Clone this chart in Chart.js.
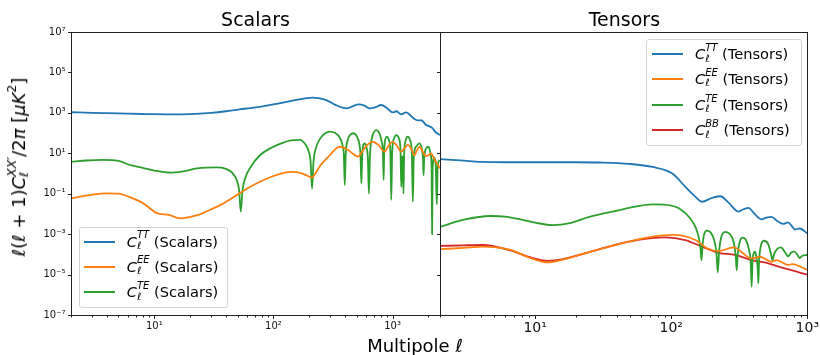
<!DOCTYPE html>
<html>
<head>
<meta charset="utf-8">
<script src="https://cdn.jsdelivr.net/npm/chart.js@4.4.0/dist/chart.umd.min.js"></script>
<style>
  body { margin: 0; background: #fff; font-family: 'DejaVu Sans', sans-serif; color: #000; }
  #wrap { position: relative; width: 820px; height: 355px; overflow: hidden; }
  canvas { position: absolute; left: 0; top: 0; }
  .txt { position: absolute; white-space: nowrap; line-height: 1; }
  .title { font-size: 19px; transform: translateX(-50%); top: 10px; }
  i { font-style: italic; }
  .ss { display: inline-block; position: relative; font-size: 10px; line-height: 10px; }
  .ss .sp { position: relative; top: -8.3px; font-style: italic; }
  .ss .sb { position: absolute; left: 0; top: 2.3px; font-style: italic; }
  .legend { position: absolute; background: rgba(255,255,255,0.8); border: 1px solid #d4d4d4;
            border-radius: 3px; box-sizing: border-box; }
  .row { position: absolute; height: 20px; line-height: 20px; font-size: 14.6px; white-space: nowrap; }
  .sw { position: absolute; height: 2px; }
  #ylab { font-size: 18px; left: 19px; top: 167px; transform: translate(-50%, -50%) rotate(-90deg); }
  #ylab .ss { font-size: 12.5px; line-height: 12.5px; }
  #ylab .ss .sp { top: -9px; }
  #ylab .ss .sb { top: 3px; }
  #xlab { font-size: 18px; left: 415px; top: 336.5px; transform: translateX(-50%); }
</style>
</head>
<body>
<div id="wrap">
  <canvas id="scalars" width="820" height="355"></canvas>
  <canvas id="tensors" width="820" height="355"></canvas>

  <div class="txt title" style="left:255.5px">Scalars</div>
  <div class="txt title" style="left:624.4px">Tensors</div>
  <div class="txt" id="ylab"><i>ℓ</i>(<i>ℓ</i> + 1)<i>C</i><span class="ss"><span class="sp">XX′</span><span class="sb">ℓ</span></span>/2<i>π</i> [<i>μK</i><span class="ss"><span class="sp" style="font-style:normal">2</span></span>]</div>
  <div class="txt" id="xlab">Multipole <i>ℓ</i></div>

  <div class="legend" id="legS" style="left:79px; top:227px; width:149px; height:81px;"></div>
  <div class="legend" id="legT" style="left:646px; top:39px; width:156px; height:107px;"></div>
</div>

<script>
// ---- data (multipole l, l(l+1)C_l/2pi in uK^2) ----
const scalarEllTT = [2, 3, 4, 6, 8, 10, 13, 20, 30, 40, 52, 64, 77, 100, 130, 160, 190, 213, 240, 270, 300, 340, 380, 412, 460, 520, 580, 645, 720, 800, 900, 1000, 1080, 1180, 1300, 1450, 1550, 1650, 1740, 1900, 2050, 2150, 2300, 2500];
const scalarTT = [1070, 1000, 960, 910, 880, 860, 850, 870, 1000, 1200, 1500, 1700, 2000, 2600, 3500, 4500, 5300, 5700, 5400, 4500, 3400, 2300, 1800, 1650, 2100, 2600, 2300, 1650, 1900, 2450, 1700, 1050, 1200, 850, 1050, 650, 470, 420, 430, 260, 210, 180, 110, 80];

const scalarEllEE = [2, 3, 4, 5, 6.3, 8, 10.5, 13.2, 16.5, 20, 23.5, 30, 36, 52, 64, 77, 100, 120, 142, 170, 195, 209, 225, 245, 270, 297, 330, 360, 420, 470, 512, 560, 610, 684, 760, 857, 930, 1000, 1080, 1183, 1260, 1343, 1430, 1530, 1600, 1680, 1790, 1900, 2000, 2100, 2250, 2500];
const scalarEE = [0.059, 0.09, 0.105, 0.1, 0.066, 0.035, 0.011, 0.009, 0.006, 0.0072, 0.009, 0.017, 0.028, 0.105, 0.22, 0.39, 0.75, 1.05, 1.2, 1.05, 0.75, 0.62, 1.0, 2.3, 4.5, 8, 16, 21, 15, 9, 6.8, 13, 25, 37, 26, 12, 25, 37, 25, 12, 18, 26, 17, 8, 14, 21, 12, 7.2, 8, 10, 5, 1.8];

// |TE|: the sharp dips are the zero crossings
const scalarEllTE = [2, 2.7, 3.6, 5, 6.3, 8, 10, 13.6, 17, 23, 33, 40, 45, 49, 51.5, 53.2, 55, 58, 64, 77, 93, 115, 140, 167, 185, 198, 205, 211, 217, 225, 245, 270, 297, 330, 360, 380, 390, 397, 404, 420, 440, 467, 500, 525, 538, 547, 556, 568, 583, 600, 620, 633, 646, 670, 700, 730, 770, 805, 830, 841, 852, 870, 896, 930, 958, 975, 992, 1030, 1075, 1130, 1165, 1183, 1200, 1210, 1222, 1234, 1250, 1290, 1343, 1400, 1450, 1480, 1505, 1580, 1680, 1760, 1805, 1820, 1840, 1920, 2000, 2080, 2125, 2145, 2170, 2240, 2300, 2350, 2390, 2470];
const scalarTE = [3.8, 4.4, 4.7, 4.2, 2.6, 1.9, 1.4, 1.1, 1.25, 1.8, 2.0, 1.7, 1.1, 0.5, 0.15, 0.013, 0.15, 0.6, 2.0, 8, 17, 30, 43, 46, 28, 12, 4, 0.18, 4, 15, 50, 95, 118, 100, 60, 25, 8, 0.27, 8, 45, 80, 98, 70, 30, 8, 0.32, 8, 25, 31, 22, 6, 0.1, 8, 55, 115, 140, 105, 45, 10, 0.48, 15, 50, 66, 45, 12, 0.05, 12, 55, 79, 55, 15, 0.22, 6, 7, 3, 0.1, 8, 45, 66, 45, 12, 0.04, 6, 22, 31, 16, 4, 0.83, 5, 18, 21, 10, 2, 0.001, 2, 6, 3, 0.03, 2, 4.7];

const tensorEllTT = [2, 3, 4, 6, 10, 20, 30, 49, 73, 102, 127, 151, 168, 200, 230, 265, 312, 340, 369, 410, 461, 500, 546, 600, 665, 723, 770, 809, 881, 1000];
const tensorTT = [5.2, 4.3, 3.8, 3.6, 3.6, 3.6, 3.5, 3.0, 2.1, 1.0, 0.22, 0.07, 0.04, 0.062, 0.075, 0.035, 0.013, 0.017, 0.02, 0.01, 0.0054, 0.0066, 0.0072, 0.0045, 0.0032, 0.0038, 0.0025, 0.0017, 0.0019, 0.0011];

const tensorEllEE = [2, 3, 4.1, 6.5, 9, 12.4, 16, 25, 49, 73, 102, 151, 183, 223, 287, 390, 449, 546, 594, 724, 780, 1000];
const tensorEE = [1.8e-4, 2.1e-4, 2.4e-4, 1.7e-4, 7e-5, 4.0e-5, 5.5e-5, 1.3e-4, 4.3e-4, 7.5e-4, 9.1e-4, 5.1e-4, 2.0e-4, 1.45e-4, 2.2e-4, 6.3e-5, 7.6e-5, 4.3e-5, 5.2e-5, 3.0e-5, 3.3e-5, 1.7e-5];

const tensorEllTE = [2, 3, 4.7, 6, 8.2, 10, 13.5, 18, 25, 41.5, 49, 73, 100, 114, 138, 152, 160, 164, 167, 170, 174, 183, 195, 207, 215, 220, 225, 233, 249, 270, 288, 298, 303, 308, 318, 334, 355, 372, 384, 390, 396, 404, 412, 422, 432, 437, 442, 455, 480, 515, 540, 555, 570, 600, 640, 690, 723, 760, 800, 850, 880, 920, 1000];
const tensorTE = [0.0023, 0.0052, 0.0079, 0.0074, 0.005, 0.0037, 0.0028, 0.0035, 0.0072, 0.0155, 0.02, 0.0295, 0.026, 0.019, 0.006, 0.002, 0.0006, 0.0002, 0.00005, 0.0003, 0.0009, 0.0015, 0.0012, 0.0005, 0.00012, 0.000013, 0.00015, 0.0007, 0.0013, 0.001, 0.0004, 0.00008, 0.000016, 0.0001, 0.0004, 0.00068, 0.0005, 0.00018, 0.00004, 0.0000025, 0.00005, 0.00011, 0.000135, 0.00008, 0.00002, 0.0000037, 0.00004, 0.00025, 0.00047, 0.00033, 0.00011, 0.000052, 0.0001, 0.00018, 0.00022, 0.00012, 0.00008, 0.00012, 0.00014, 0.00009, 0.000066, 0.000085, 0.000093];

const tensorEllBB = [2, 3, 4.1, 6.5, 9, 12.4, 16, 25, 49, 91, 127, 168, 223, 295, 390, 516, 684, 1000];
const tensorBB = [2.6e-4, 2.8e-4, 2.9e-4, 1.6e-4, 7.5e-5, 4.8e-5, 5.8e-5, 1.3e-4, 4.3e-4, 6.9e-4, 5.1e-4, 2.4e-4, 1.2e-4, 9.3e-5, 5.2e-5, 3.6e-5, 2.0e-5, 1.0e-5];

const xTicks = [10, 100, 1000];
const yTicks = [1e-7, 1e-5, 1e-3, 1e-1, 1e1, 1e3, 1e5, 1e7];

const BLUE = '#1f77b4', ORANGE = '#ff7f0e', GREEN = '#2ca02c', RED = '#d62728';

Chart.defaults.font.family = "'DejaVu Sans', sans-serif";
Chart.defaults.color = '#111';

const SUP = { '-': '⁻', '0': '⁰', '1': '¹', '2': '²', '3': '³', '4': '⁴', '5': '⁵', '6': '⁶', '7': '⁷', '8': '⁸', '9': '⁹' };
function powLabel(v) {
  const e = Math.round(Math.log10(v));
  return '10' + String(e).split('').map(c => SUP[c]).join('');
}

function pts(ell, vals) {
  return ell.map((l, i) => ({ x: l, y: vals[i] }));
}

function line(label, ell, vals, color) {
  return {
    label, data: pts(ell, vals), borderColor: color, backgroundColor: color,
    borderWidth: 1.8, pointRadius: 0, fill: false, cubicInterpolationMode: 'monotone'
  };
}

// frame + matplotlib style tick marks (major 3.5px, minor 2px)
const framePlugin = {
  id: 'frame',
  afterDraw(chart) {
    const { ctx, chartArea: a, scales: { x } } = chart;
    const y = chart.scales.y;
    ctx.save();
    ctx.strokeStyle = '#222';
    ctx.lineWidth = 1;
    // both panels put the shared edge on the same pixel column
    const L = Math.round(a.left) + 0.5, R = Math.round(a.right) + 0.5;
    const T = Math.round(a.top) + 0.5, B = Math.round(a.bottom) + 0.5;
    ctx.strokeRect(L, T, R - L, B - T);
    ctx.beginPath();
    const d0 = Math.floor(Math.log10(x.min)), d1 = Math.ceil(Math.log10(x.max));
    for (let d = d0; d <= d1; d++) {
      for (let m = 1; m <= 9; m++) {
        const v = m * Math.pow(10, d);
        if (v < x.min || v > x.max) continue;
        const px = Math.round(x.getPixelForValue(v)) + 0.5;
        ctx.moveTo(px, B);
        ctx.lineTo(px, B + (m === 1 ? 3.5 : 2));
      }
    }
    yTicks.forEach(v => {
      const py = Math.round(y.getPixelForValue(v)) + 0.5;
      ctx.moveTo(L, py);
      ctx.lineTo(L - 3.5, py);
    });
    ctx.stroke();
    ctx.restore();
  }
};

function xScale(min, max, fontSize, pad) {
  return {
    type: 'logarithmic', min, max,
    afterBuildTicks(s) { s.ticks = xTicks.map(v => ({ value: v })); },
    afterFit(s) { s.height = 40; },
    grid: { display: false, drawTicks: true, tickLength: 4 },
    border: { display: false },
    ticks: { autoSkip: false, maxRotation: 0, padding: pad, font: { size: fontSize }, callback: v => powLabel(v) }
  };
}

new Chart(document.getElementById('scalars'), {
  type: 'line',
  data: {
    datasets: [
      line('TT (Scalars)', scalarEllTT, scalarTT, BLUE),
      line('EE (Scalars)', scalarEllEE, scalarEE, ORANGE),
      line('TE (Scalars)', scalarEllTE, scalarTE, GREEN)
    ]
  },
  options: {
    responsive: false, animation: false,
    layout: { padding: { left: 0, top: 32, right: 380, bottom: 0 } },
    plugins: { legend: { display: false }, tooltip: { enabled: false } },
    scales: {
      x: xScale(2, 2500, 10, 1),
      y: {
        type: 'logarithmic', min: 1e-7, max: 1e7,
        afterBuildTicks(s) { s.ticks = yTicks.map(v => ({ value: v })); },
        afterFit(s) { s.width = 71; },
        grid: { display: false, drawTicks: true, tickLength: 3.5 },
        border: { display: false },
        ticks: { autoSkip: false, padding: 2, font: { size: 10 }, callback: v => powLabel(v) }
      }
    }
  },
  plugins: [framePlugin]
});

new Chart(document.getElementById('tensors'), {
  type: 'line',
  data: {
    datasets: [
      line('TT (Tensors)', tensorEllTT, tensorTT, BLUE),
      line('EE (Tensors)', tensorEllEE, tensorEE, ORANGE),
      line('TE (Tensors)', tensorEllTE, tensorTE, GREEN),
      line('BB (Tensors)', tensorEllBB, tensorBB, RED)
    ]
  },
  options: {
    responsive: false, animation: false,
    layout: { padding: { left: 440, top: 32, right: 11.3, bottom: 0 } },
    plugins: { legend: { display: false }, tooltip: { enabled: false } },
    scales: {
      x: xScale(2, 1000, 14, 1),
      y: { type: 'logarithmic', min: 1e-7, max: 1e7, display: false }
    }
  },
  plugins: [framePlugin]
});

// legends (HTML so the C_l^{XY} labels keep their stacked sub/superscripts)
function buildLegend(id, entries, suffix, swX, textX, rows) {
  const box = document.getElementById(id);
  const r = box.getBoundingClientRect();
  const wrap = document.getElementById('wrap').getBoundingClientRect();
  entries.forEach((e, i) => {
    const cy = rows[i] - (r.top - wrap.top) - 1;
    const sw = document.createElement('div');
    sw.className = 'sw';
    sw.style.cssText = `left:${swX[0] - (r.left - wrap.left) - 1}px; width:${swX[1] - swX[0]}px; top:${cy - 1}px; background:${e.color}`;
    box.appendChild(sw);
    const row = document.createElement('div');
    row.className = 'row';
    row.style.left = (textX - (r.left - wrap.left) - 1) + 'px';
    row.style.top = (cy - 10) + 'px';
    row.innerHTML = `<i>C</i><span class="ss"><span class="sp">${e.key}</span><span class="sb">ℓ</span></span> (${suffix})`;
    box.appendChild(row);
  });
}

buildLegend('legS', [
  { key: 'TT', color: BLUE }, { key: 'EE', color: ORANGE }, { key: 'TE', color: GREEN }
], 'Scalars', [84, 115], 126.7, [241.7, 266.7, 292.3]);

buildLegend('legT', [
  { key: 'TT', color: BLUE }, { key: 'EE', color: ORANGE }, { key: 'TE', color: GREEN }, { key: 'BB', color: RED }
], 'Tensors', [651.7, 682.7], 695, [54.3, 79, 105, 130.3]);
</script>
</body>
</html>
